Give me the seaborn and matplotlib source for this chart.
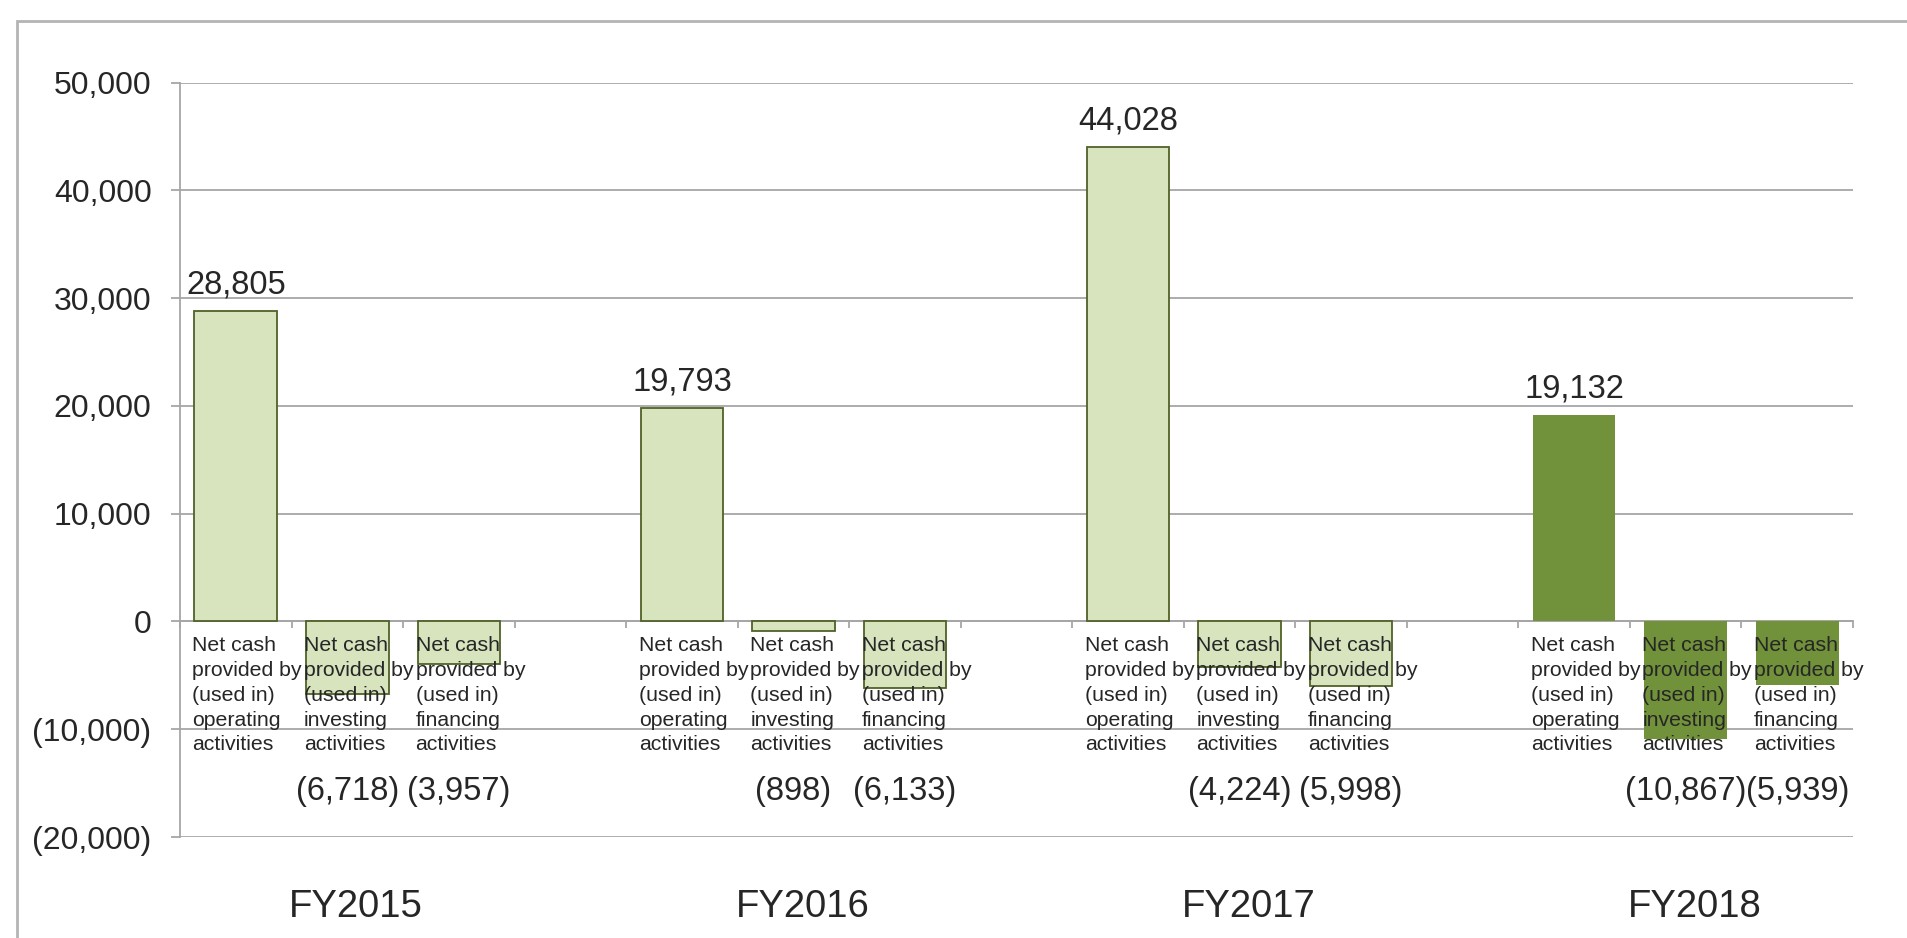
import matplotlib
matplotlib.use("Agg")
from matplotlib import pyplot as plt
from matplotlib.patches import Rectangle
from matplotlib.ticker import FuncFormatter
import pandas as pd
import seaborn as sns

# data
years = ["FY2015", "FY2016", "FY2017", "FY2018"]
activities = ["operating", "investing", "financing"]
fy2015 = [28805, -6718, -3957]
fy2016 = [19793, -898, -6133]
fy2017 = [44028, -4224, -5998]
fy2018 = [19132, -10867, -5939]
y_ticks = [-20000, -10000, 0, 10000, 20000, 30000, 40000, 50000]

light_green = "#D7E4BD"
dark_green = "#71913A"
edge_green = "#4F6228"
grid_gray = "#A6A6A6"


def fmt_num(v):
    """Accounting style: negatives in brackets"""
    if v < 0:
        return f"({abs(v):,.0f})"
    return f"{v:,.0f}"


rows = []
slots = []
for g, (year, vals) in enumerate(zip(years, [fy2015, fy2016, fy2017, fy2018])):
    for act, v in zip(activities, vals):
        slot = f"{year} {act}"
        slots.append(slot)
        rows.append({"slot": slot, "year": year, "activity": act, "value": v})
    if g < len(years) - 1:
        slots.append(f"gap{g}")   # empty category between years
df = pd.DataFrame(rows)

palette = {r.slot: (dark_green if r.year == "FY2018" else light_green) for r in df.itertuples()}

sns.set_style("white")
plt.rcParams["font.family"] = ["Liberation Sans", "DejaVu Sans"]

fig, ax = plt.subplots(figsize=(19.08, 9.38), dpi=100)
fig.subplots_adjust(left=180 / 1908, right=1853 / 1908, top=1 - 82.7 / 938, bottom=1 - 837 / 938)

sns.barplot(data=df, x="slot", y="value", order=slots, hue="slot", hue_order=list(df["slot"]),
            palette=palette, width=0.74, saturation=1, legend=False, ax=ax, zorder=3)

# outline the light bars only
for p in ax.patches:
    if p.get_width() == 0:
        continue
    if matplotlib.colors.to_hex(p.get_facecolor()).upper() == light_green:
        p.set_edgecolor(edge_green)
        p.set_linewidth(1.3)
    else:
        p.set_edgecolor("none")

ax.set_xlim(-0.5, len(slots) - 0.5)
ax.set_ylim(-20000, 50000)
ax.set_yticks(y_ticks)
ax.yaxis.set_major_formatter(FuncFormatter(lambda v, _: fmt_num(v)))
ax.tick_params(axis="y", labelsize=23, length=6.5, width=1.3, color=grid_gray, pad=14, left=True)
ax.grid(axis="y", color=grid_gray, lw=1.3, zorder=0)
ax.set_axisbelow(True)

# category boundaries as small ticks below the zero line
ax.set_xticks([])
ax.set_xticks([i - 0.5 for i in range(len(slots) + 1)], minor=True)
ax.tick_params(axis="x", which="minor", length=5, width=1.3, color=grid_gray, direction="out", bottom=True)
ax.spines["bottom"].set_position(("data", 0))
ax.spines["bottom"].set_color(grid_gray)
ax.spines["bottom"].set_linewidth(1.3)
ax.spines["left"].set_color(grid_gray)
ax.spines["left"].set_linewidth(1.3)
ax.spines["top"].set_visible(False)
ax.spines["right"].set_visible(False)
ax.set_xlabel("")
ax.set_ylabel("")

for r in df.itertuples():
    i = slots.index(r.slot)
    # category text, left aligned with the bar
    ax.annotate(f"Net cash\nprovided by\n(used in)\n{r.activity}\nactivities",
                xy=(i - 0.37, 0), xytext=(-2, -15), textcoords="offset pixels",
                ha="left", va="top", fontsize=15.3, linespacing=1.38, zorder=5)
    if r.value >= 0:
        ax.annotate(fmt_num(r.value), xy=(i, r.value), xytext=(0, 26), textcoords="offset pixels",
                    ha="center", va="center", fontsize=23.5)
    else:
        ax.text(i, -15800, fmt_num(r.value), ha="center", va="center", fontsize=23.5)

for g, year in enumerate(years):
    ax.text(slots.index(f"{year} investing") + 0.08, -26500, year,
            ha="center", va="center", fontsize=27.5, clip_on=False)

# outer chart border
fig.patches.append(Rectangle((17 / 1908, -0.05), 1.2, 1.05 - 20.7 / 938,
                             transform=fig.transFigure, fill=False,
                             edgecolor="#B4B4B4", lw=2))

fig.savefig("out.png", dpi=100)
